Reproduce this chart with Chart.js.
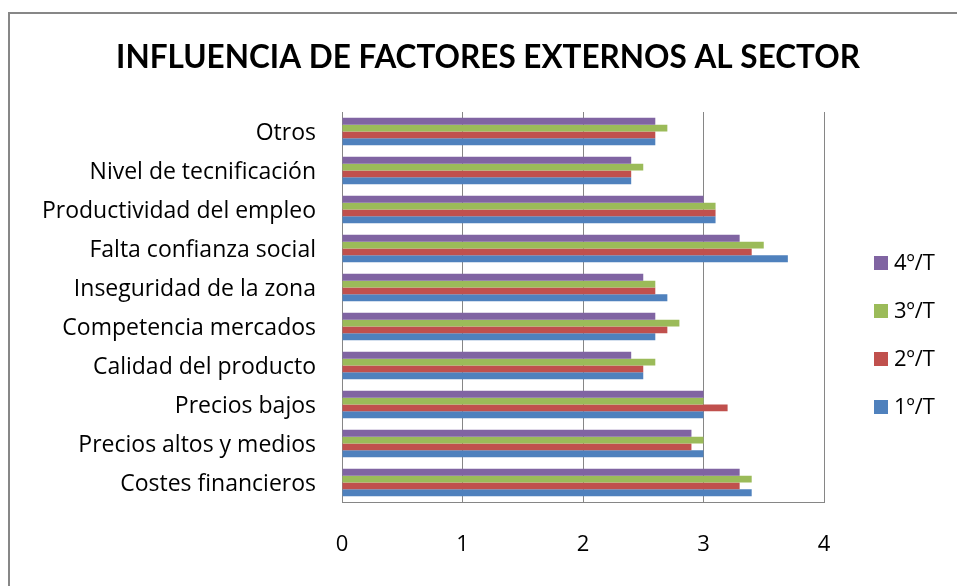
<!DOCTYPE html>
<html lang="es">
<head>
  <meta charset="UTF-8">
  <title>Influencia de factores externos al sector</title>
  <script src="https://cdn.jsdelivr.net/npm/chart.js"></script>
  <style>
    html, body { margin: 0; padding: 0; background: #fff; }
    #wrap { position: relative; width: 957px; height: 586px; overflow: hidden; }
    .frame { position: absolute; left: 8px; top: 12px; width: 1000px; height: 1000px; border: 2px solid #878787; }
    canvas { position: absolute; left: 0; top: 0; }
  </style>
</head>
<body>
  <div id="wrap">
    <div class="frame"></div>
    <canvas id="chart" width="957" height="586"></canvas>
  </div>
  <script>
    // Categories, top to bottom as drawn
    const categories = [
      'Otros',
      'Nivel de tecnificación',
      'Productividad del empleo',
      'Falta confianza social',
      'Inseguridad de la zona',
      'Competencia mercados',
      'Calidad del producto',
      'Precios bajos',
      'Precios altos y medios',
      'Costes financieros'
    ];

    // Series values (same order as categories)
    const t4 = [2.6, 2.4, 3.0, 3.3, 2.5, 2.6, 2.4, 3.0, 2.9, 3.3];
    const t3 = [2.7, 2.5, 3.1, 3.5, 2.6, 2.8, 2.6, 3.0, 3.0, 3.4];
    const t2 = [2.6, 2.4, 3.1, 3.4, 2.6, 2.7, 2.5, 3.2, 2.9, 3.3];
    const t1 = [2.6, 2.4, 3.1, 3.7, 2.7, 2.6, 2.5, 3.0, 3.0, 3.4];

    const seriesNames = ['4º/T', '3º/T', '2º/T', '1º/T'];
    const seriesColors = ['#8064A2', '#9BBB59', '#C0504D', '#4F81BD'];
    const xTicks = [0, 1, 2, 3, 4];

    const titleText = 'INFLUENCIA DE FACTORES EXTERNOS AL SECTOR';
    const FONT = '"Open Sans", Lato, sans-serif';

    // title + legend drawn by hand so they sit where the original has them
    const extras = {
      id: 'extras',
      afterDraw(chart) {
        const ctx = chart.ctx;
        ctx.save();
        ctx.fillStyle = '#000';
        ctx.font = 'bold 31.5px Lato, sans-serif';
        ctx.textAlign = 'center';
        ctx.textBaseline = 'middle';
        ctx.fillText(titleText, 488, 58);

        ctx.font = '22px ' + FONT;
        ctx.textAlign = 'left';
        const centers = [263, 311, 359, 407];
        chart.data.datasets.forEach((ds, i) => {
          ctx.fillStyle = ds.backgroundColor;
          ctx.fillRect(874, centers[i] - 7, 14, 14);
          ctx.fillStyle = '#000';
          ctx.fillText(ds.label, 894, centers[i] + 1);
        });
        ctx.restore();
      }
    };

    const values = [t4, t3, t2, t1];

    new Chart(document.getElementById('chart'), {
      type: 'bar',
      data: {
        labels: categories,
        datasets: seriesNames.map((name, i) => ({
          label: name,
          data: values[i],
          backgroundColor: seriesColors[i],
          borderWidth: 0,
          categoryPercentage: 0.7,
          barPercentage: 1.0
        }))
      },
      options: {
        indexAxis: 'y',
        responsive: false,
        animation: false,
        layout: { padding: { left: 0, right: 133, top: 112, bottom: 0 } },
        plugins: {
          legend: { display: false },
          title: { display: false },
          tooltip: { enabled: false }
        },
        scales: {
          x: {
            min: 0,
            max: 4,
            afterFit: (scale) => { scale.height = 84; },
            afterBuildTicks: (scale) => { scale.ticks = xTicks.map(v => ({ value: v })); },
            grid: { color: '#868686', lineWidth: 1, drawTicks: false },
            border: { color: '#868686', width: 1 },
            ticks: { color: '#000', padding: 30, font: { family: FONT, size: 22 } }
          },
          y: {
            afterFit: (scale) => { scale.width = 342; },
            grid: { display: false, drawTicks: false },
            border: { color: '#868686', width: 1 },
            ticks: { color: '#000', padding: 26, labelOffset: 2, font: { family: FONT, size: 23 } }
          }
        }
      },
      plugins: [extras]
    });
  </script>
</body>
</html>
